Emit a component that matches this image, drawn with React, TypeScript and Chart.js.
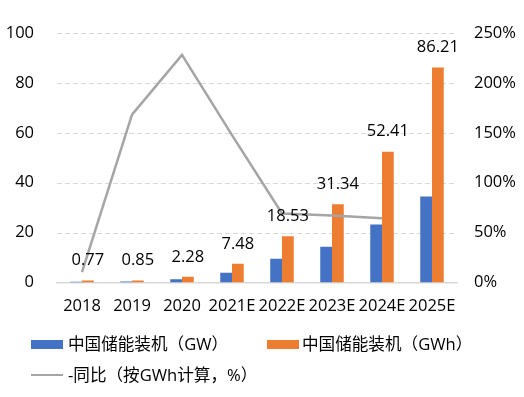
import React, { useEffect, useRef } from "react";
import { Chart, registerables } from "chart.js";

Chart.register(...registerables);

const categories = ["2018", "2019", "2020", "2021E", "2022E", "2023E", "2024E", "2025E"];
const gwValues = [0.3, 0.4, 1.3, 3.9, 9.5, 14.3, 23.2, 34.5];
const gwhValues = [0.77, 0.85, 2.28, 7.48, 18.53, 31.34, 52.41, 86.21];
const yoyValues: (number | null)[] = [10.4, 168.2, 228.1, 147.7, 69.1, 67.2, 64.5, null];
const leftTickMax = 100;
const leftTickStep = 20;
const rightTickMax = 250;
const rightTickStep = 50;

const seriesNames = ["中国储能装机（GW）", "中国储能装机（GWh）", "-同比（按GWh计算，%）"];

const FONT = '"Open Sans", "Noto Sans CJK SC", sans-serif';
const BLUE = "#4472C4";
const ORANGE = "#ED7D31";
const GRAY = "#A5A5A5";

const gridPlugin = {
  id: "dashGrid",
  beforeDatasetsDraw(chart: any) {
    const ys = chart.scales.y;
    const { left, right } = chart.chartArea;
    const ctx = chart.ctx;
    ctx.save();
    ctx.strokeStyle = "#D9D9D9";
    ctx.lineWidth = 1;
    ctx.setLineDash([5, 3]);
    ys.ticks.forEach((t: any) => {
      if (t.value === 0) return;
      const py = Math.round(ys.getPixelForValue(t.value)) + 0.5;
      ctx.beginPath();
      ctx.moveTo(left, py);
      ctx.lineTo(right, py);
      ctx.stroke();
    });
    ctx.restore();
  },
};

const labelPlugin = {
  id: "barLabels",
  afterDraw(chart: any) {
    const meta = chart.getDatasetMeta(2);
    const ctx = chart.ctx;
    ctx.save();
    ctx.font = `16.5px ${FONT}`;
    ctx.fillStyle = "#000";
    ctx.textAlign = "center";
    ctx.textBaseline = "middle";
    meta.data.forEach((el: any, i: number) => {
      ctx.fillText(gwhValues[i].toFixed(2), el.x, el.y - 20);
    });
    ctx.restore();
  },
};

export default function App() {
  const ref = useRef<HTMLCanvasElement | null>(null);

  useEffect(() => {
    document.body.style.margin = "0";
    if (!ref.current) return;
    const chart = new Chart(ref.current, {
      type: "bar",
      data: {
        labels: categories,
        datasets: [
          {
            type: "line",
            label: seriesNames[2],
            data: yoyValues,
            yAxisID: "y1",
            borderColor: GRAY,
            backgroundColor: GRAY,
            borderWidth: 2.5,
            pointRadius: 0,
            tension: 0,
            order: 0,
          } as any,
          {
            type: "bar",
            label: seriesNames[0],
            data: gwValues,
            yAxisID: "y",
            backgroundColor: BLUE,
            barPercentage: 1,
            categoryPercentage: 0.47,
            order: 1,
          },
          {
            type: "bar",
            label: seriesNames[1],
            data: gwhValues,
            yAxisID: "y",
            backgroundColor: ORANGE,
            barPercentage: 1,
            categoryPercentage: 0.47,
            order: 1,
          },
        ],
      },
      options: {
        responsive: false,
        animation: false,
        layout: { padding: { left: 0, right: 0, top: 33, bottom: 80 } },
        plugins: { legend: { display: false }, tooltip: { enabled: false } },
        scales: {
          x: {
            grid: { display: false, drawTicks: false },
            border: { display: true, color: "#D9D9D9", width: 1.5 },
            ticks: { color: "#000", font: { family: FONT, size: 16.5 }, padding: 14, maxRotation: 0, autoSkip: false },
            afterFit: (s: any) => { s.height = 34.5; },
          },
          y: {
            position: "left",
            min: 0,
            max: leftTickMax,
            ticks: { stepSize: leftTickStep, color: "#000", font: { family: FONT, size: 16.5 }, padding: 23 },
            grid: { display: false, drawTicks: false },
            border: { display: false },
            afterFit: (s: any) => { s.width = 57; },
          },
          y1: {
            position: "right",
            min: 0,
            max: rightTickMax,
            ticks: {
              stepSize: rightTickStep,
              color: "#000",
              font: { family: FONT, size: 16.5 },
              padding: 17,
              callback: (v: any) => `${v}%`,
            },
            grid: { display: false, drawTicks: false },
            border: { display: false },
            afterFit: (s: any) => { s.width = 67; },
          },
        },
      },
      plugins: [gridPlugin, labelPlugin],
    });
    return () => chart.destroy();
  }, []);

  const textStyle: React.CSSProperties = {
    position: "absolute",
    fontFamily: FONT,
    fontSize: 16.6,
    lineHeight: "20px",
    color: "#000",
    whiteSpace: "nowrap",
  };

  return (
    <div style={{ position: "relative", width: 524, height: 397 }}>
      <canvas ref={ref} width={524} height={397} style={{ position: "absolute", left: 0, top: 0, width: 524, height: 397 }} />
      <div style={{ position: "absolute", left: 31, top: 339.5, width: 32, height: 9, background: BLUE }} />
      <div style={{ ...textStyle, left: 68, top: 334 }}>{seriesNames[0]}</div>
      <div style={{ position: "absolute", left: 267, top: 339.5, width: 32, height: 9, background: ORANGE }} />
      <div style={{ ...textStyle, left: 302, top: 334 }}>{seriesNames[1]}</div>
      <div style={{ position: "absolute", left: 31, top: 373.5, width: 32, height: 2.5, background: GRAY }} />
      <div style={{ ...textStyle, left: 68, top: 365 }}>{seriesNames[2]}</div>
    </div>
  );
}
